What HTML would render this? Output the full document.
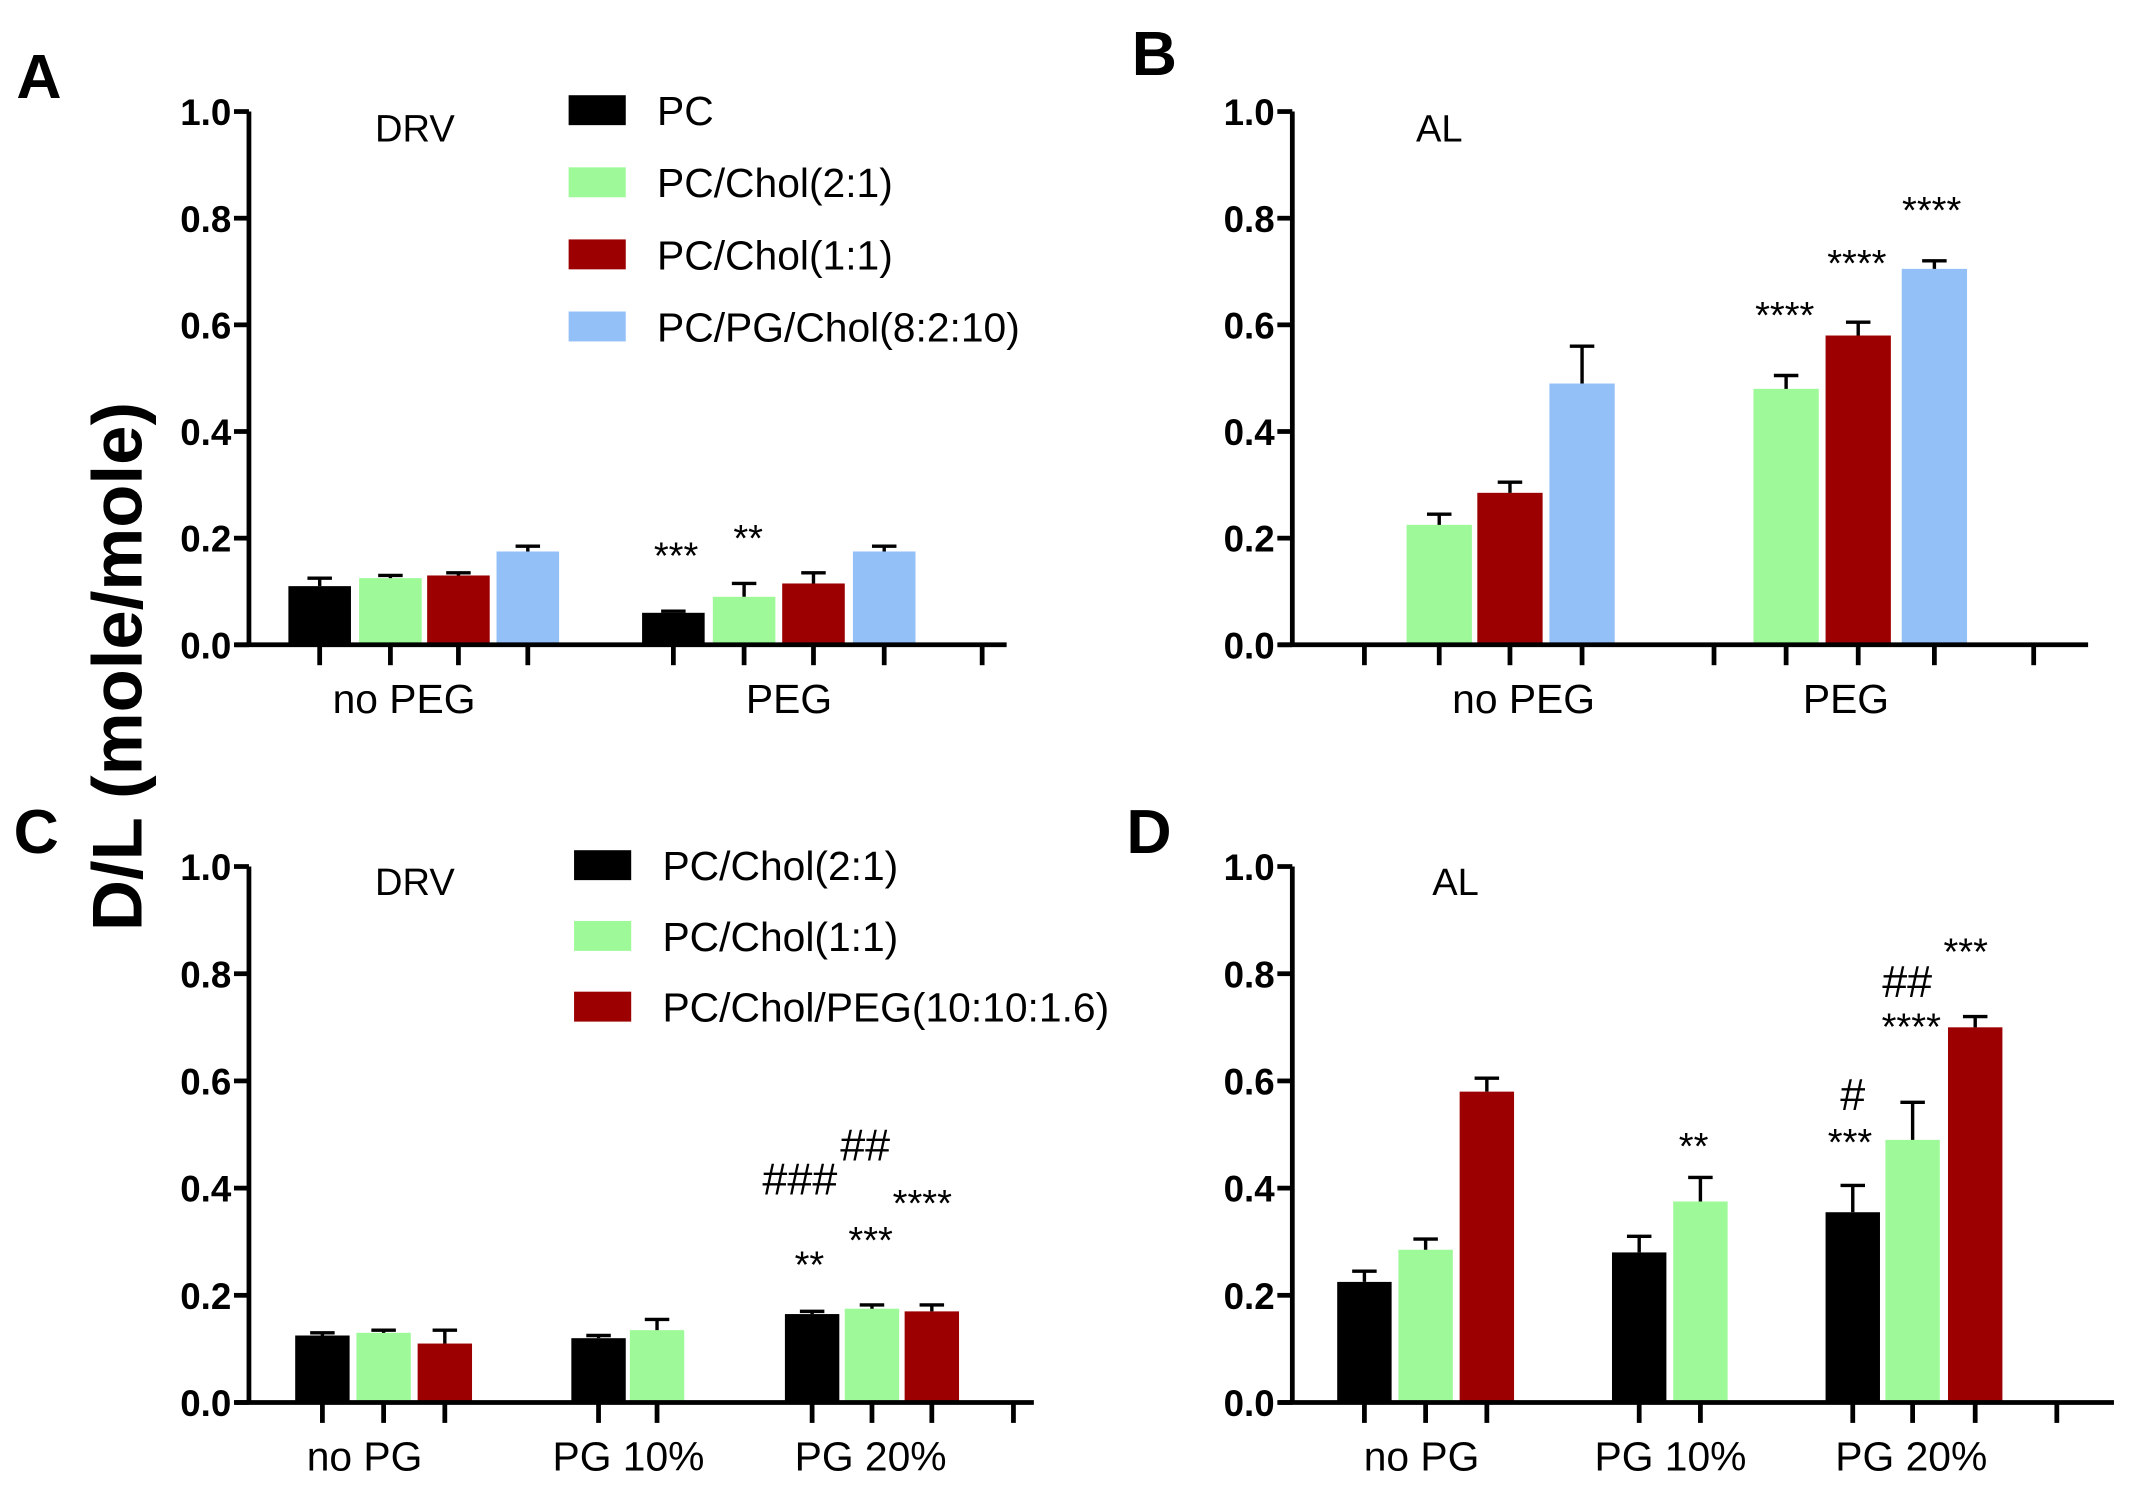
<!DOCTYPE html>
<html><head><meta charset="utf-8"><style>
html,body{margin:0;padding:0;background:#fff}
svg{display:block;font-family:"Liberation Sans",Arial,sans-serif}
</style></head><body>
<svg id="fig" width="2133" height="1495" viewBox="0 0 1568 1099">
<g font-weight="bold" font-size="46">
<text x="12" y="72">A</text>
<text x="832" y="55">B</text>
<text x="10" y="627">C</text>
<text x="828" y="627">D</text>
</g>
<text transform="translate(104,490) rotate(-90)" text-anchor="middle" font-size="52" font-weight="bold">D/L (mole/mole)</text>
<g font-size="30">
<rect x="418" y="70" width="42" height="22" fill="#000"/><text x="483" y="92">PC</text>
<rect x="418" y="123" width="42" height="22" fill="#9efa98"/><text x="483" y="145">PC/Chol(2:1)</text>
<rect x="418" y="176" width="42" height="22" fill="#9c0000"/><text x="483" y="198">PC/Chol(1:1)</text>
<rect x="418" y="229" width="42" height="22" fill="#94c0f8"/><text x="483" y="251">PC/PG/Chol(8:2:10)</text>
</g>
<g font-size="30">
<rect x="422" y="625" width="42" height="22" fill="#000"/><text x="487" y="647">PC/Chol(2:1)</text>
<rect x="422" y="677" width="42" height="22" fill="#9efa98"/><text x="487" y="699">PC/Chol(1:1)</text>
<rect x="422" y="729" width="42" height="22" fill="#9c0000"/><text x="487" y="751">PC/Chol/PEG(10:10:1.6)</text>
</g>
</svg>
<script>
const colBlack="#000",colGreen="#9efa98",colRed="#9c0000",colBlue="#94c0f8";
// Panel A data
const aColors=[colBlack,colGreen,colRed,colBlue,colBlack,colGreen,colRed,colBlue];
const aValues=[0.11,0.125,0.13,0.175,0.06,0.09,0.115,0.175];
const aErrors=[0.125,0.13,0.135,0.185,0.063,0.115,0.135,0.185];
const aCategories=["no PEG","PEG"];
// Panel B data
const bColors=[colGreen,colRed,colBlue,colGreen,colRed,colBlue];
const bValues=[0.225,0.285,0.49,0.48,0.58,0.705];
const bErrors=[0.245,0.305,0.56,0.505,0.605,0.72];
const bCategories=["no PEG","PEG"];
// Panel C data
const cColors=[colBlack,colGreen,colRed,colBlack,colGreen,colBlack,colGreen,colRed];
const cValues=[0.125,0.13,0.11,0.12,0.135,0.165,0.175,0.17];
const cErrors=[0.13,0.135,0.135,0.125,0.155,0.17,0.182,0.182];
const cCategories=["no PG","PG 10%","PG 20%"];
// Panel D data
const dColors=[colBlack,colGreen,colRed,colBlack,colGreen,colBlack,colGreen,colRed];
const dValues=[0.225,0.285,0.58,0.28,0.375,0.355,0.49,0.70];
const dErrors=[0.245,0.305,0.605,0.31,0.42,0.405,0.56,0.72];
const dCategories=["no PG","PG 10%","PG 20%"];
const yTicks=[0,0.2,0.4,0.6,0.8,1.0];
const yTickLabels=["0.0","0.2","0.4","0.6","0.8","1.0"];

const NS="http://www.w3.org/2000/svg";
const svg=document.getElementById("fig");
function mk(tag,attrs,parent){const e=document.createElementNS(NS,tag);for(const k in attrs)e.setAttribute(k,attrs[k]);(parent||svg).appendChild(e);return e;}

const panels=[
 {id:"a",ax:183,y0:474,y1:82,xEnd:740,bw:46,barX:[235,287,337,388,495,547,598,650],ticks:[235,287,337,388,495,547,598,650,722],
  colors:aColors,values:aValues,errors:aErrors,cats:aCategories,catX:[297,580],title:"DRV",titleX:305,titleY:104,
  ann:[["***",497,418],["**",550,405]]},
 {id:"b",ax:950,y0:474,y1:82,xEnd:1535,bw:48,barX:[1058,1110,1163,1313,1366,1422],ticks:[1003,1058,1110,1163,1260,1313,1366,1422,1495],
  colors:bColors,values:bValues,errors:bErrors,cats:bCategories,catX:[1120,1357],title:"AL",titleX:1058,titleY:104,
  ann:[["****",1312,241],["****",1365,203],["****",1420,164]]},
 {id:"c",ax:183,y0:1031,y1:637,xEnd:760,bw:40,barX:[237,282,327,440,483,597,641,685],ticks:[237,282,327,440,483,597,641,685,745],
  colors:cColors,values:cValues,errors:cErrors,cats:cCategories,catX:[268,462,640],title:"DRV",titleX:305,titleY:658,
  ann:[["**",595,939],["***",640,921],["****",678,894],["###",588,878],["##",636,853]]},
 {id:"d",ax:950,y0:1031,y1:637,xEnd:1554,bw:40,barX:[1003,1048,1093,1205,1250,1362,1406,1452],ticks:[1003,1048,1093,1205,1250,1362,1406,1452,1512],
  colors:dColors,values:dValues,errors:dErrors,cats:dCategories,catX:[1045,1228,1405],title:"AL",titleX:1070,titleY:658,
  ann:[["**",1245,852],["***",1360,849],["#",1362,816],["****",1405,764],["##",1402,733],["***",1445,709]]}
];

panels.forEach(p=>{
 const g=mk("g",{});
 
 
 const yS=v=>p.y0-(p.y0-p.y1)*v;
 p.values.forEach((v,i)=>{
  const x=p.barX[i];
  const r=mk("rect",{x:x-p.bw/2,y:yS(v),width:p.bw,height:p.y0-yS(v),fill:p.colors[i]},g);
  
  
  const e=mk("path",{d:`M${x} ${yS(v)}V${yS(p.errors[i])}M${x-9} ${yS(p.errors[i])}H${x+9}`,stroke:"#000",fill:"none","stroke-width":2.5},g);
  
  
 });
 const ya=mk("path",{d:`M${p.ax} ${p.y1}V${p.y0}`,stroke:"#000","stroke-width":3.5,fill:"none"},g);
 
 
 const xa=mk("path",{d:`M${p.ax-10} ${p.y0}H${p.xEnd}`,stroke:"#000","stroke-width":3.5,fill:"none"},g);
 
 
 yTicks.forEach((t,i)=>{
  const y=yS(t);
  mk("path",{d:`M${p.ax-11} ${y}H${p.ax}`,stroke:"#000","stroke-width":3.5},g);
  const tl=mk("text",{x:p.ax-13,y:y+10,"text-anchor":"end","font-size":27,"font-weight":"bold"},g);
  tl.textContent=yTickLabels[i];
  
  
 });
 p.ticks.forEach(x=>{mk("path",{d:`M${x} ${p.y0}V${p.y0+15}`,stroke:"#000","stroke-width":3.5},g);});
 p.cats.forEach((c,i)=>{
  const t=mk("text",{x:p.catX[i],y:p.y0+50,"text-anchor":"middle","font-size":30},g);
  t.textContent=c;
  
  
 });
 const tt=mk("text",{x:p.titleX,y:p.titleY,"text-anchor":"middle","font-size":28},g);
 tt.textContent=p.title;
 
 
 p.ann.forEach(a=>{
  const t=mk("text",{x:a[1],y:a[2],"text-anchor":"middle","font-size":a[0].startsWith("#")?33:28},g);
  t.textContent=a[0];
  
  
 });
});
</script>
</body></html>
